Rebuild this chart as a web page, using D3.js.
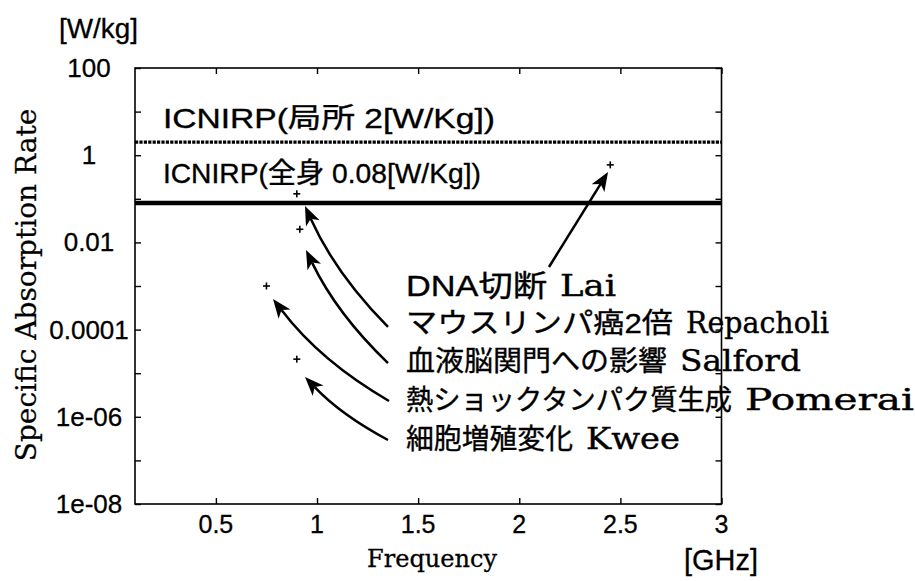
<!DOCTYPE html>
<html>
<head>
<meta charset="utf-8">
<script src="https://cdn.jsdelivr.net/npm/d3@7"></script>
<style>
  body { margin: 0; background: #fff; }
  svg { display: block; }
</style>
</head>
<body>
<svg id="chart" width="915" height="581"></svg>
<script>
// Reported biological effects: study, effect, frequency (GHz), SAR (W/kg)
const studies = ["Lai", "Repacholi", "Salford", "Pomerai", "Kwee"];
const effects = ["DNA切断", "マウスリンパ癌2倍", "血液脳関門への影響", "熱ショックタンパク質生成", "細胞増殖変化"];
const frequencies = [2.45, 0.9, 0.915, 0.75, 0.9];
const sarValues = [0.6, 0.13, 0.02, 0.001, 0.000021];

// ICNIRP exposure limits (W/kg)
const limitNames = ["ICNIRP(局所 2[W/Kg])", "ICNIRP(全身 0.08[W/Kg])"];
const limitValues = [2, 0.08];

// Axis ticks
const xTicks = [0.5, 1, 1.5, 2, 2.5, 3];
const yTickLabels = ["100", "1", "0.01", "0.0001", "1e-06", "1e-08"];
const yTickDecades = [2, 1, 0, -1, -2, -3, -4, -5, -6, -7, -8];

// Annotation layout in data units: label anchor and arrow tail/tip
const labelFreq = 1.44;
const labelSar = [5.9e-4, 8.4e-5, 1.12e-5, 1.43e-6, 1.82e-7];
const arrowTail = [[2.147, 2.73e-3], [1.351, 1.15e-4], [1.351, 1.71e-5], [1.356, 2.3e-6], [1.351, 2.94e-7]];
const arrowTip = [[2.439, 0.412], [0.9406, 0.0684], [0.9455, 0.0067], [0.7824, 5.04e-4], [0.9406, 8.18e-6]];
const arrowBend = [0, 0.09, 0.09, 0.1, 0.08];
const limitLabelFreq = 0.238;
const limitLabelSar = [4.2, 0.23];

// Set widths (px) for the label runs
const effectWidth = [141, 267, 261, 326, 167];
const studyWidth = [56, 143, 121, 169, 94];
const limitLabelWidth = [332, 318];

const svg = d3.select("#chart");
const W = 915, H = 581;
const plot = { left: 135, right: 721.5, top: 68, bottom: 504 };

const SANS = "'Liberation Sans', Arial, 'Noto Sans CJK JP', sans-serif";
const SERIF = "'DejaVu Serif', serif";

const x = d3.scaleLinear().domain([0.1, 3]).range([plot.left, plot.right]);
const y = d3.scaleLog().domain([1e-8, 100]).range([plot.bottom, plot.top]);

svg.append("rect").attr("width", W).attr("height", H).attr("fill", "#fff");

// Frame
svg.append("rect")
  .attr("x", plot.left).attr("y", plot.top)
  .attr("width", plot.right - plot.left).attr("height", plot.bottom - plot.top)
  .attr("fill", "none").attr("stroke", "#000").attr("stroke-width", 1.6);

// Inward ticks on all four sides
const tickLen = 6;
const yTicks = yTickDecades.map(e => Math.pow(10, e));
function styleAxis(g) {
  g.select(".domain").remove();
  g.selectAll(".tick line").attr("stroke", "#000").attr("stroke-width", 1.4);
}
svg.append("g").attr("transform", `translate(0,${plot.bottom})`)
  .call(d3.axisTop(x).tickValues(xTicks).tickSize(tickLen).tickFormat("")).call(styleAxis);
svg.append("g").attr("transform", `translate(0,${plot.top})`)
  .call(d3.axisBottom(x).tickValues(xTicks).tickSize(tickLen).tickFormat("")).call(styleAxis);
svg.append("g").attr("transform", `translate(${plot.left},0)`)
  .call(d3.axisRight(y).tickValues(yTicks).tickSize(tickLen).tickFormat("")).call(styleAxis);
svg.append("g").attr("transform", `translate(${plot.right},0)`)
  .call(d3.axisLeft(y).tickValues(yTicks).tickSize(tickLen).tickFormat("")).call(styleAxis);

// Tick labels
svg.append("g").selectAll("text").data(xTicks).join("text")
  .attr("x", d => x(d)).attr("y", 533)
  .attr("text-anchor", "middle")
  .attr("font-family", SANS).attr("font-size", 25)
  .attr("stroke", "#000").attr("stroke-width", 0.3)
  .text(d => d);

svg.append("g").selectAll("text").data(yTickLabels).join("text")
  .attr("x", 89).attr("y", d => y(+d) + 9)
  .attr("text-anchor", "middle")
  .attr("font-family", SANS).attr("font-size", 26)
  .attr("stroke", "#000").attr("stroke-width", 0.3)
  .text(d => d);

// Axis titles and units
svg.append("text").attr("x", 59).attr("y", 38)
  .attr("font-family", SANS).attr("font-size", 27)
  .attr("textLength", 79).attr("lengthAdjust", "spacingAndGlyphs")
  .attr("stroke", "#000").attr("stroke-width", 0.3)
  .text("[W/kg]");
svg.append("text").attr("x", 684).attr("y", 570)
  .attr("font-family", SANS).attr("font-size", 29)
  .attr("textLength", 74).attr("lengthAdjust", "spacingAndGlyphs")
  .attr("stroke", "#000").attr("stroke-width", 0.3)
  .text("[GHz]");
svg.append("text").attr("x", 432).attr("y", 567)
  .attr("text-anchor", "middle")
  .attr("font-family", SERIF).attr("font-size", 24)
  .attr("textLength", 130).attr("lengthAdjust", "spacingAndGlyphs")
  .attr("stroke", "#000").attr("stroke-width", 0.3)
  .text("Frequency");
svg.append("text")
  .attr("transform", `translate(36,285) rotate(-90)`)
  .attr("text-anchor", "middle")
  .attr("font-family", SERIF).attr("font-size", 28)
  .attr("stroke", "#000").attr("stroke-width", 0.25)
  .text("Specific Absorption Rate");

// ICNIRP limit lines
const limits = limitValues.map((v, i) => ({ v, name: limitNames[i], i }));
svg.append("g").selectAll("line").data(limits).join("line")
  .attr("x1", plot.left).attr("x2", plot.right)
  .attr("y1", d => y(d.v)).attr("y2", d => y(d.v))
  .attr("stroke", "#000")
  .attr("stroke-width", d => d.i === 0 ? 3.4 : 4.5)
  .attr("stroke-dasharray", d => d.i === 0 ? "3.2,1.2" : null);

svg.append("g").selectAll("text").data(limits).join("text")
  .attr("x", x(limitLabelFreq)).attr("y", d => y(limitLabelSar[d.i]))
  .attr("font-family", SANS).attr("font-size", 28)
  .attr("textLength", d => limitLabelWidth[d.i]).attr("lengthAdjust", "spacingAndGlyphs")
  .attr("stroke", "#000").attr("stroke-width", 0.35)
  .text(d => d.name);

// Study points
const pts = studies.map((s, i) => ({ s, e: effects[i], f: frequencies[i], sar: sarValues[i], i }));
const cross = 3.5;
const ptG = svg.append("g").attr("stroke", "#000").attr("stroke-width", 1.6);
pts.forEach(p => {
  const cx = x(p.f), cy = y(p.sar);
  ptG.append("line").attr("x1", cx - cross).attr("x2", cx + cross).attr("y1", cy).attr("y2", cy);
  ptG.append("line").attr("x1", cx).attr("x2", cx).attr("y1", cy - cross).attr("y2", cy + cross);
});

// Arrows from each label to its point
const arrowG = svg.append("g");
pts.forEach(p => {
  const t = arrowTail[p.i], h = arrowTip[p.i];
  const x0 = x(t[0]), y0 = y(t[1]), x2 = x(h[0]), y2 = y(h[1]);
  const dx = x2 - x0, dy = y2 - y0, len = Math.hypot(dx, dy);
  const nx = dy / len, ny = -dx / len;
  const b = arrowBend[p.i] * len;
  const cx = (x0 + x2) / 2 + nx * b, cy = (y0 + y2) / 2 + ny * b;
  // direction at the tip
  let ux = x2 - cx, uy = y2 - cy;
  const ul = Math.hypot(ux, uy); ux /= ul; uy /= ul;
  const headLen = 19, headW = 7.5, notch = 5;
  const bx = x2 - ux * headLen, by = y2 - uy * headLen;
  const nbx = x2 - ux * (headLen - notch), nby = y2 - uy * (headLen - notch);
  const path = d3.path();
  path.moveTo(x0, y0);
  path.quadraticCurveTo(cx, cy, nbx, nby);
  arrowG.append("path").attr("d", path.toString())
    .attr("fill", "none").attr("stroke", "#000").attr("stroke-width", 2.5);
  const head = d3.path();
  head.moveTo(x2, y2);
  head.lineTo(bx - uy * headW, by + ux * headW);
  head.lineTo(nbx, nby);
  head.lineTo(bx + uy * headW, by - ux * headW);
  head.closePath();
  arrowG.append("path").attr("d", head.toString()).attr("fill", "#000");
});

// Study labels: effect (Japanese) followed by author name
const labG = svg.append("g");
const nameGap = 13;
pts.forEach(p => {
  const x0 = x(labelFreq), yb = y(labelSar[p.i]);
  labG.append("text")
    .attr("x", x0).attr("y", yb)
    .attr("font-family", SANS)
    .attr("font-size", p.i === 0 ? 30 : 28)
    .attr("textLength", effectWidth[p.i]).attr("lengthAdjust", "spacingAndGlyphs")
    .attr("stroke", "#000").attr("stroke-width", 0.35)
    .text(p.e);
  labG.append("text")
    .attr("x", x0 + effectWidth[p.i] + nameGap).attr("y", yb)
    .attr("font-family", SERIF)
    .attr("font-size", 29)
    .attr("textLength", studyWidth[p.i]).attr("lengthAdjust", "spacingAndGlyphs")
    .attr("stroke", "#000").attr("stroke-width", 0.4)
    .text(p.s);
});
</script>
</body>
</html>
